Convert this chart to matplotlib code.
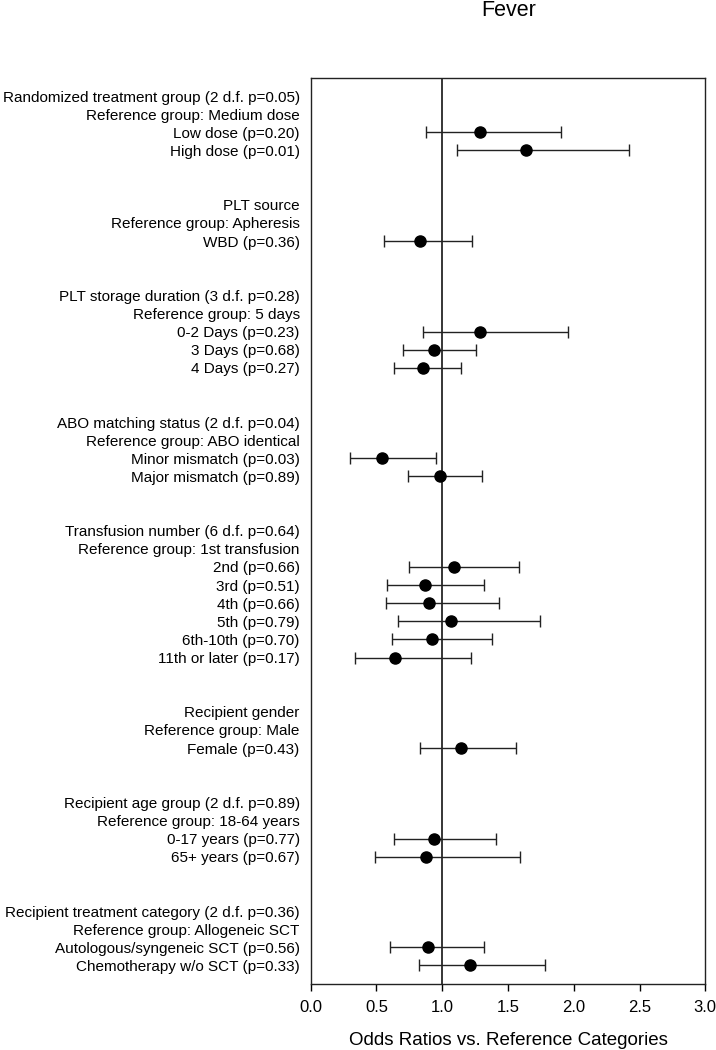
import matplotlib
matplotlib.use("Agg")
import matplotlib.pyplot as plt
import numpy as np

plt.rcParams['font.family'] = ['Liberation Sans', 'DejaVu Sans']

# rows from top to bottom; blank rows separate the groups
row_labels = [
    "Randomized treatment group (2 d.f. p=0.05)",
    "Reference group: Medium dose",
    "Low dose (p=0.20)",
    "High dose (p=0.01)",
    "", "",
    "PLT source",
    "Reference group: Apheresis",
    "WBD (p=0.36)",
    "", "",
    "PLT storage duration (3 d.f. p=0.28)",
    "Reference group: 5 days",
    "0-2 Days (p=0.23)",
    "3 Days (p=0.68)",
    "4 Days (p=0.27)",
    "", "",
    "ABO matching status (2 d.f. p=0.04)",
    "Reference group: ABO identical",
    "Minor mismatch (p=0.03)",
    "Major mismatch (p=0.89)",
    "", "",
    "Transfusion number (6 d.f. p=0.64)",
    "Reference group: 1st transfusion",
    "2nd (p=0.66)",
    "3rd (p=0.51)",
    "4th (p=0.66)",
    "5th (p=0.79)",
    "6th-10th (p=0.70)",
    "11th or later (p=0.17)",
    "", "",
    "Recipient gender",
    "Reference group: Male",
    "Female (p=0.43)",
    "", "",
    "Recipient age group (2 d.f. p=0.89)",
    "Reference group: 18-64 years",
    "0-17 years (p=0.77)",
    "65+ years (p=0.67)",
    "", "",
    "Recipient treatment category (2 d.f. p=0.36)",
    "Reference group: Allogeneic SCT",
    "Autologous/syngeneic SCT (p=0.56)",
    "Chemotherapy w/o SCT (p=0.33)",
]

# odds ratios and 95% CI for the rows that carry an estimate
estimate_rows = ["Low dose (p=0.20)", "High dose (p=0.01)", "WBD (p=0.36)",
                 "0-2 Days (p=0.23)", "3 Days (p=0.68)", "4 Days (p=0.27)",
                 "Minor mismatch (p=0.03)", "Major mismatch (p=0.89)",
                 "2nd (p=0.66)", "3rd (p=0.51)", "4th (p=0.66)", "5th (p=0.79)",
                 "6th-10th (p=0.70)", "11th or later (p=0.17)",
                 "Female (p=0.43)", "0-17 years (p=0.77)", "65+ years (p=0.67)",
                 "Autologous/syngeneic SCT (p=0.56)", "Chemotherapy w/o SCT (p=0.33)"]
odds_ratio = [1.29, 1.64, 0.83, 1.29, 0.94, 0.85, 0.54, 0.98,
              1.09, 0.87, 0.90, 1.07, 0.92, 0.64, 1.14, 0.94, 0.88, 0.89, 1.21]
ci_low = [0.88, 1.11, 0.56, 0.85, 0.70, 0.63, 0.30, 0.74,
          0.75, 0.58, 0.57, 0.66, 0.62, 0.34, 0.83, 0.63, 0.49, 0.60, 0.82]
ci_high = [1.90, 2.42, 1.23, 1.96, 1.26, 1.14, 0.95, 1.30,
           1.58, 1.32, 1.43, 1.74, 1.38, 1.22, 1.56, 1.41, 1.59, 1.32, 1.78]

xticks = [0.0, 0.5, 1.0, 1.5, 2.0, 2.5, 3.0]

fig = plt.figure(figsize=(7.16, 10.5), dpi=100)
ax = fig.add_axes([0.434, 0.0633, 0.551, 0.8624])

ypos = [row_labels.index(lab) for lab in estimate_rows]
or_arr = np.array(odds_ratio)
err = [or_arr - np.array(ci_low), np.array(ci_high) - or_arr]

ax.axvline(1.0, color='black', lw=1.1, zorder=1)
ax.errorbar(odds_ratio, ypos, xerr=err, fmt='o', color='black', ecolor='#222222',
            elinewidth=1.0, capsize=4, capthick=1.0, markersize=8, zorder=3)

ax.set_xlim(0, 3.0)
ax.set_ylim(len(row_labels), -1)
ax.set_xticks(xticks)
ax.set_xticklabels([f"{t:.1f}" for t in xticks], fontsize=12)
ax.set_yticks(range(len(row_labels)))
ax.set_yticklabels(row_labels, fontsize=11)
ax.tick_params(axis='y', length=0, pad=8)
ax.tick_params(axis='x', direction='out', length=5, width=1, pad=7)
for s in ax.spines.values():
    s.set_linewidth(1.0)
    s.set_color('#222222')

ax.set_xlabel("Odds Ratios vs. Reference Categories", fontsize=13.5, labelpad=12)
fig.text(509 / 716, 1 - 10 / 1050, "Fever", ha='center', va='center', fontsize=15.5)

fig.savefig("out.png", dpi=100)
